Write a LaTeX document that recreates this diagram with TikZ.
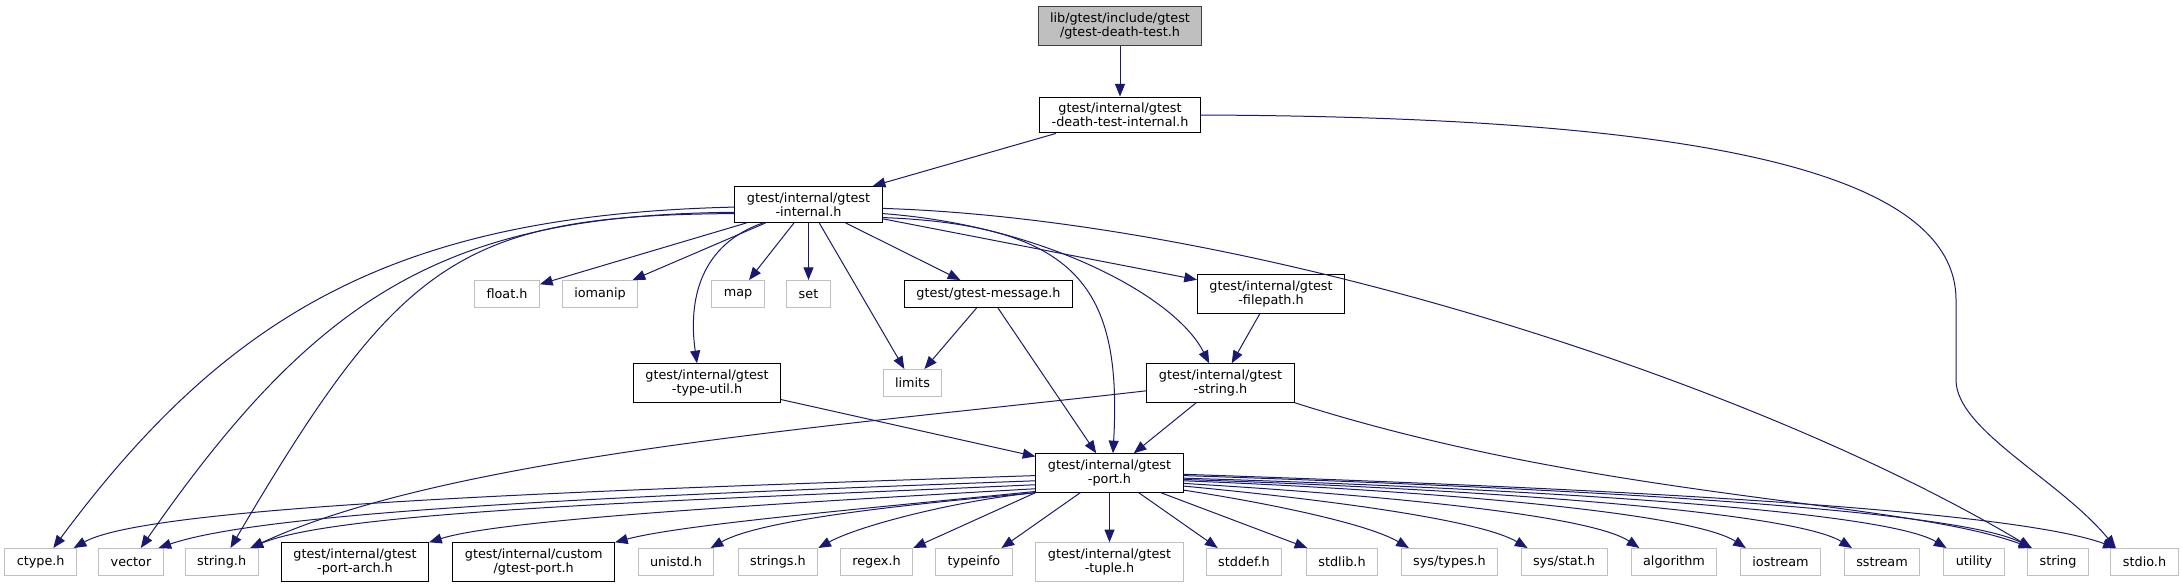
\documentclass[tikz,border=0pt]{standalone}
\usepackage{fontspec}
\setmainfont{DejaVu Sans}
\usepackage{xcolor}
\usepackage{tikz}
\usetikzlibrary{arrows.meta}
\definecolor{cedge}{HTML}{191970}
\definecolor{cgrey}{HTML}{BFBFBF}
\definecolor{cdark}{HTML}{404040}
\tikzset{
  hdrbox/.style={draw=black, fill=white, align=center, line width=0.75pt,
    font=\fontsize{9.6}{10.5}\selectfont, inner xsep=9pt, inner ysep=4.5pt,
    minimum height=20.25pt},
  sysbox/.style={hdrbox, draw=cgrey},
  rootbox/.style={hdrbox, draw=cdark, fill=cgrey},
  incarrow/.style={-{Triangle[length=9.5pt,width=7.5pt]}, line width=0.75pt, color=cedge}
}

\begin{document}
\begin{tikzpicture}[x=0.75pt, y=-0.75pt]
  \useasboundingbox (0,0) rectangle (2183,588);

  % upper part
  \node[rootbox] (root) at (1120,26) {lib/gtest/include/gtest\\/gtest-death-test.h};
  \node[hdrbox] (deathint) at (1120,115) {gtest/internal/gtest\\-death-test-internal.h};
  \node[hdrbox] (internal) at (808.5,204.5) {gtest/internal/gtest\\-internal.h};
  \node[sysbox] (floath) at (507,294) {float.h};
  \node[sysbox] (iomanip) at (600,294) {iomanip};
  \node[sysbox] (map) at (738,294) {map};
  \node[sysbox] (set) at (808.5,294) {set};
  \node[hdrbox] (message) at (988.5,294) {gtest/gtest-message.h};
  \node[hdrbox] (filepath) at (1271,294) {gtest/internal/gtest\\-filepath.h};
  \node[hdrbox] (typeutil) at (707,383) {gtest/internal/gtest\\-type-util.h};
  \node[sysbox] (limits) at (912.5,383) {limits};
  \node[hdrbox] (gstring) at (1220.5,383) {gtest/internal/gtest\\-string.h};
  \node[hdrbox] (port) at (1109.5,473) {gtest/internal/gtest\\-port.h};

  % bottom row
  \node[sysbox] (ctype) at (40.7,562) {ctype.h};
  \node[sysbox] (vector) at (131,562) {vector};
  \node[sysbox] (stringh) at (221.7,562) {string.h};
  \node[hdrbox] (portarch) at (355,562) {gtest/internal/gtest\\-port-arch.h};
  \node[hdrbox] (custom) at (533.7,562) {gtest/internal/custom\\/gtest-port.h};
  \node[sysbox] (unistd) at (676,562) {unistd.h};
  \node[sysbox] (strings) at (778,562) {strings.h};
  \node[sysbox] (regex) at (876.5,562) {regex.h};
  \node[sysbox] (typeinfo) at (974,562) {typeinfo};
  \node[sysbox] (tuple) at (1109.5,562) {gtest/internal/gtest\\-tuple.h};
  \node[sysbox] (stddef) at (1244,562) {stddef.h};
  \node[sysbox] (stdlib) at (1342,562) {stdlib.h};
  \node[sysbox] (systypes) at (1449.5,562) {sys/types.h};
  \node[sysbox] (sysstat) at (1564,562) {sys/stat.h};
  \node[sysbox] (algorithm) at (1674,562) {algorithm};
  \node[sysbox] (iostream) at (1780.5,562) {iostream};
  \node[sysbox] (sstream) at (1882,562) {sstream};
  \node[sysbox] (utility) at (1974,562) {utility};
  \node[sysbox] (string) at (2058,562) {string};
  \node[sysbox] (stdio) at (2144.5,562) {stdio.h};

  % death-test includes
  \draw[incarrow] (root) -- (deathint);
  \draw[incarrow] (deathint) -- (internal);
  \draw[incarrow] (deathint.east) .. controls (1650,117) and (1956,160) .. (1956,300)
    -- (1956,380) .. controls (1956,430) and (2060,480) .. (stdio.154);

  % gtest-internal.h includes
  \draw[incarrow] (internal) -- (floath);
  \draw[incarrow] (internal) -- (iomanip);
  \draw[incarrow] (internal) -- (map);
  \draw[incarrow] (internal) -- (set);
  \draw[incarrow] (internal) -- (message);
  \draw[incarrow] (internal) -- (filepath);
  \draw[incarrow] (internal) -- (limits);
  \draw[incarrow] (internal.202) .. controls (700,245) and (688,300) .. (typeutil.117);
  \draw[incarrow] (internal.-7) .. controls (1040,225) and (1175,295) .. (gstring.120);
  \draw[incarrow] (internal.-10) .. controls (1080,225) and (1122,290) .. (port.80);
  \draw[incarrow] (internal.-3) .. controls (1250,220) and (1750,380) .. (string.152);
  \draw[incarrow] (internal.182) .. controls (400,215) and (230,310) .. (ctype.48);
  \draw[incarrow] (internal.186) .. controls (450,215) and (320,290) .. (vector.55);
  \draw[incarrow] (internal.187) .. controls (460,215) and (400,260) .. (stringh.58);

  % middle headers
  \draw[incarrow] (message) -- (limits);
  \draw[incarrow] (message) -- (port);
  \draw[incarrow] (filepath) -- (gstring);
  \draw[incarrow] (typeutil) -- (port);
  \draw[incarrow] (gstring) -- (port);
  \draw[incarrow] (gstring.186) .. controls (850,425) and (450,455) .. (stringh.26);
  \draw[incarrow] (gstring.south east) .. controls (1600,500) and (1900,500) .. (string.152);

  % gtest-port.h includes
  \draw[incarrow] (port.182) .. controls (600,490) and (150,505) .. (ctype.23);
  \draw[incarrow] (port.186) .. controls (650,495) and (270,510) .. (vector.27);
  \draw[incarrow] (port.189) .. controls (700,500) and (340,510) .. (stringh.26);
  \draw[incarrow] (port.192) .. controls (750,505) and (500,520) .. (portarch.north east);
  \draw[incarrow] (port.194) .. controls (850,510) and (680,525) .. (custom.north east);
  \draw[incarrow] (port.south west) .. controls (900,505) and (760,520) .. (unistd.22);
  \draw[incarrow] (port.south west) .. controls (960,500) and (860,525) .. (strings.north east);
  \draw[incarrow] (port.south west) -- (regex.north east);
  \draw[incarrow] (port.214) -- (typeinfo.27);
  \draw[incarrow] (port) -- (tuple);
  \draw[incarrow] (port.-34) -- (stddef.152);
  \draw[incarrow] (port.-21) -- (stdlib.158);
  \draw[incarrow] (port.-13) .. controls (1280,505) and (1370,525) .. (systypes.161);
  \draw[incarrow] (port.-10) .. controls (1330,500) and (1480,520) .. (sysstat.159);
  \draw[incarrow] (port.-8) .. controls (1380,495) and (1590,515) .. (algorithm.158);
  \draw[incarrow] (port.-6) .. controls (1420,490) and (1690,512) .. (iostream.158);
  \draw[incarrow] (port.-5) .. controls (1450,488) and (1790,510) .. (sstream.155);
  \draw[incarrow] (port.-4) .. controls (1480,487) and (1880,508) .. (utility.153);
  \draw[incarrow] (port.-2) .. controls (1500,486) and (1950,506) .. (string.152);
  \draw[incarrow] (port.-1) .. controls (1500,485) and (2000,505) .. (stdio.154);
\end{tikzpicture}
\end{document}
